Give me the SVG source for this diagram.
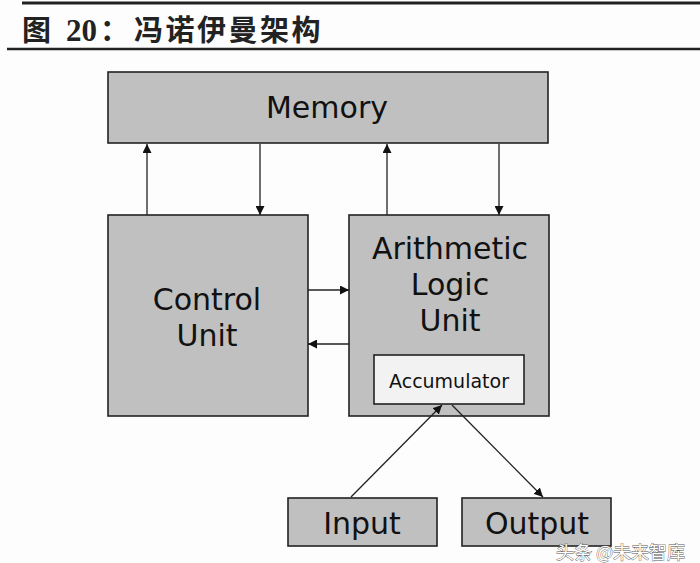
<svg xmlns="http://www.w3.org/2000/svg" width="700" height="563" viewBox="0 0 700 563">
<defs>
<style>
.box{fill:#c0c0c0;stroke:#222;stroke-width:1.6}
.acc{fill:#f2f2f2;stroke:#222;stroke-width:1.6}
.lbl{font-family:"DejaVu Sans",sans-serif;fill:#111;text-anchor:middle}
.big{font-size:30px}
.con{stroke:#222;stroke-width:1.3;fill:none;marker-end:url(#ah)}
.ttl{font-family:"Liberation Serif","Noto Sans CJK SC",serif;font-weight:bold;fill:#222}
</style>
<marker id="ah" viewBox="0 0 10 10" refX="10" refY="5" markerWidth="9" markerHeight="9" markerUnits="userSpaceOnUse" orient="auto">
<path d="M0,0 L10,5 L0,10 z" fill="#111"/>
</marker>
</defs>
<rect width="700" height="563" fill="#fdfdfd"/>
<g id="title">
<line x1="22" y1="3" x2="700" y2="3" stroke="#222" stroke-width="3"/>
<text class="ttl" font-size="29"><tspan x="22" y="41">图</tspan><tspan x="66" y="41" font-size="31">20</tspan><tspan x="100" y="41">：</tspan><tspan x="134" y="41" letter-spacing="2.5">冯诺伊曼架构</tspan></text>
<line x1="7" y1="49" x2="700" y2="49" stroke="#222" stroke-width="2.5"/>
</g>
<g id="memory">
<rect class="box" x="108" y="72" width="440" height="71"/>
<text class="lbl big" x="327" y="118">Memory</text>
</g>
<g id="control">
<rect class="box" x="108" y="215" width="200" height="201"/>
<text class="lbl big" x="207" y="310">Control</text>
<text class="lbl big" x="207" y="346">Unit</text>
</g>
<g id="alu">
<rect class="box" x="349" y="215" width="200" height="201"/>
<text class="lbl big" x="450" y="259">Arithmetic</text>
<text class="lbl big" x="450" y="295">Logic</text>
<text class="lbl big" x="450" y="331">Unit</text>
</g>
<g id="accumulator">
<rect class="acc" x="374" y="355" width="150" height="49"/>
<text class="lbl" font-size="19" x="449" y="388">Accumulator</text>
</g>
<g id="input">
<rect class="box" x="288" y="498" width="149" height="48"/>
<text class="lbl big" x="362" y="534">Input</text>
</g>
<g id="output">
<rect class="box" x="462" y="498" width="149" height="48"/>
<text class="lbl big" x="537" y="534">Output</text>
</g>
<g id="connectors">
<line class="con" x1="147" y1="215" x2="147" y2="144"/>
<line class="con" x1="260" y1="144" x2="260" y2="215"/>
<line class="con" x1="387" y1="215" x2="387" y2="144"/>
<line class="con" x1="499" y1="144" x2="499" y2="215"/>
<line class="con" x1="308" y1="290" x2="349" y2="290"/>
<line class="con" x1="349" y1="344" x2="308" y2="344"/>
<line class="con" x1="351" y1="497" x2="442" y2="405"/>
<line class="con" x1="452" y1="405" x2="543" y2="497"/>
</g>
<g id="watermark">
<text x="556" y="559" font-family="'Noto Sans CJK SC',sans-serif" font-size="18" fill="#fff" stroke="#555" stroke-width="0.8" paint-order="stroke">头条 @未来智库</text>
</g>
</svg>
